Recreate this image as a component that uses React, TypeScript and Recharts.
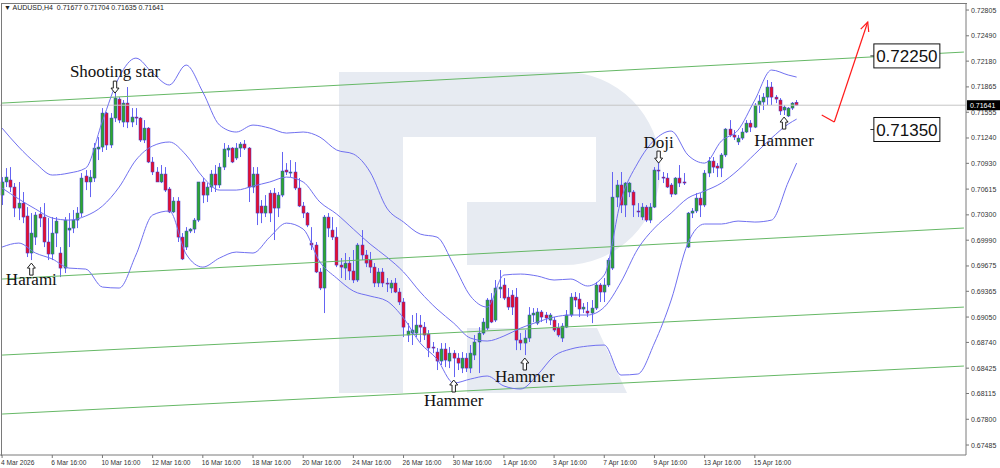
import React from "react";
import {
  ComposedChart,
  Bar,
  Line,
  XAxis,
  YAxis,
  ReferenceLine,
  ReferenceDot,
} from "recharts";

// AUDUSD H4 candles
const opens = [
  0.70542, 0.70702, 0.70726, 0.7064, 0.70383, 0.70444, 0.70286, 0.69833, 0.70028, 0.7031,
  0.70273, 0.69968, 0.69821, 0.70077, 0.69833, 0.69649, 0.70114, 0.70138, 0.70236, 0.70322,
  0.70775, 0.70702, 0.7075, 0.71105, 0.71129, 0.71545, 0.71154, 0.71484, 0.71716, 0.71435,
  0.71667, 0.71435, 0.71496, 0.71484, 0.71215, 0.71361, 0.70946, 0.70824, 0.70702, 0.70799,
  0.70616, 0.70335, 0.70469, 0.70028, 0.69906, 0.70102, 0.70126, 0.70236, 0.70702, 0.70542,
  0.7064, 0.70799, 0.70665, 0.70884, 0.71093, 0.71117, 0.70995, 0.71117, 0.71166, 0.71117,
  0.7064, 0.70799, 0.70408, 0.70322, 0.70566, 0.70566, 0.70383, 0.70542, 0.70848, 0.70811,
  0.70824, 0.70628, 0.70408, 0.70322, 0.69955, 0.69931, 0.69601, 0.69405, 0.70273, 0.70114,
  0.70028, 0.69686, 0.69649, 0.6971, 0.69613, 0.69503, 0.69931, 0.69809, 0.69747, 0.69661,
  0.69466, 0.69601, 0.69466, 0.69405, 0.69466, 0.69356, 0.69234, 0.6883, 0.68854, 0.68854,
  0.68952, 0.68927, 0.68842, 0.68683, 0.68622, 0.68512, 0.68659, 0.68512, 0.68609, 0.68548,
  0.68426, 0.68548, 0.68426, 0.68585, 0.68745, 0.68854, 0.68915, 0.69258, 0.69013, 0.69393,
  0.69442, 0.69294, 0.69319, 0.69294, 0.68769, 0.68732, 0.68793, 0.69075, 0.68976, 0.69112,
  0.69075, 0.69013, 0.69013, 0.68915, 0.68793, 0.68927, 0.69075, 0.69294, 0.6927, 0.69148,
  0.69124, 0.69099, 0.6916, 0.69442, 0.69356, 0.69442, 0.69649, 0.70517, 0.70665, 0.7042,
  0.70579, 0.70579, 0.70347, 0.70273, 0.70395, 0.70236, 0.70395, 0.70848, 0.70762, 0.7075,
  0.70665, 0.70554, 0.7075, 0.70702, 0.69906, 0.70322, 0.70347, 0.70505, 0.7042, 0.70811,
  0.70958, 0.70897, 0.70872, 0.71032, 0.71349, 0.71276, 0.71191, 0.71239, 0.71313, 0.71422,
  0.71373, 0.71643, 0.7168, 0.7174, 0.71863, 0.7174, 0.71704, 0.71582, 0.71509, 0.71606,
  0.71677,
];
const highs = [
  0.70762, 0.70872, 0.70884, 0.70689, 0.70702, 0.70579, 0.70395, 0.70322, 0.70335, 0.70395,
  0.70444, 0.70261, 0.70273, 0.70273, 0.69906, 0.70273, 0.70322, 0.70359, 0.70395, 0.70811,
  0.70848, 0.70848, 0.71178, 0.71251, 0.71606, 0.71558, 0.71545, 0.71826, 0.7174, 0.71704,
  0.71863, 0.71606, 0.71606, 0.71496, 0.71459, 0.71373, 0.71007, 0.70884, 0.70909, 0.70884,
  0.7064, 0.70517, 0.70517, 0.70077, 0.7015, 0.70138, 0.70261, 0.70702, 0.7075, 0.70689,
  0.70848, 0.70909, 0.70933, 0.71178, 0.71154, 0.71129, 0.71178, 0.71191, 0.71215, 0.71129,
  0.70884, 0.70884, 0.70481, 0.70542, 0.70603, 0.70628, 0.70579, 0.71069, 0.70933, 0.7097,
  0.70946, 0.7075, 0.70457, 0.70335, 0.7015, 0.69968, 0.69649, 0.70298, 0.70322, 0.70273,
  0.7015, 0.69772, 0.69833, 0.69784, 0.6987, 0.69955, 0.70114, 0.6987, 0.69846, 0.6971,
  0.69649, 0.69649, 0.69527, 0.69503, 0.69527, 0.69405, 0.69282, 0.68976, 0.69075, 0.69099,
  0.69075, 0.68989, 0.68891, 0.68745, 0.68671, 0.68732, 0.68732, 0.68683, 0.68646, 0.68609,
  0.68622, 0.68609, 0.68708, 0.6883, 0.68927, 0.69038, 0.69282, 0.69343, 0.69503, 0.69625,
  0.69527, 0.69405, 0.6938, 0.69405, 0.68854, 0.68891, 0.69172, 0.6916, 0.6916, 0.69136,
  0.69112, 0.69099, 0.6905, 0.68976, 0.68976, 0.69136, 0.69343, 0.69356, 0.69343, 0.69221,
  0.69234, 0.69258, 0.69479, 0.69466, 0.69527, 0.69772, 0.70824, 0.70726, 0.70824, 0.70702,
  0.70702, 0.70603, 0.70444, 0.70444, 0.7042, 0.70444, 0.70884, 0.70946, 0.70824, 0.70811,
  0.70689, 0.70762, 0.70909, 0.70811, 0.70335, 0.70383, 0.70566, 0.70566, 0.70848, 0.71007,
  0.71007, 0.70933, 0.71056, 0.71361, 0.71459, 0.71337, 0.71276, 0.71361, 0.71459, 0.71459,
  0.71667, 0.71765, 0.71789, 0.71949, 0.71925, 0.71765, 0.71728, 0.71643, 0.71618, 0.7168,
  0.71704,
];
const lows = [
  0.7042, 0.7064, 0.70579, 0.70273, 0.70236, 0.70199, 0.69784, 0.69747, 0.69931, 0.7015,
  0.69906, 0.69747, 0.69747, 0.69906, 0.69539, 0.69588, 0.69906, 0.70077, 0.70138, 0.70273,
  0.70603, 0.70517, 0.70702, 0.7097, 0.71069, 0.71093, 0.71117, 0.71435, 0.71422, 0.71373,
  0.71361, 0.71373, 0.71398, 0.71191, 0.71178, 0.70933, 0.70787, 0.70702, 0.70689, 0.70579,
  0.70322, 0.70322, 0.69968, 0.69747, 0.6987, 0.70077, 0.70077, 0.70212, 0.70444, 0.70457,
  0.70579, 0.70579, 0.70628, 0.70848, 0.71007, 0.70933, 0.7097, 0.71007, 0.71093, 0.70457,
  0.70566, 0.70175, 0.70199, 0.70273, 0.70212, 0.69992, 0.70273, 0.70517, 0.70787, 0.70762,
  0.70603, 0.70395, 0.70261, 0.7015, 0.6987, 0.69588, 0.6938, 0.69099, 0.70028, 0.69992,
  0.69661, 0.69527, 0.69503, 0.69503, 0.69466, 0.69479, 0.69747, 0.69661, 0.69588, 0.69417,
  0.69417, 0.69417, 0.69356, 0.69343, 0.69343, 0.69197, 0.68805, 0.68745, 0.68708, 0.68805,
  0.68745, 0.68769, 0.6856, 0.68609, 0.68402, 0.68463, 0.68438, 0.68426, 0.68316, 0.68402,
  0.68365, 0.68378, 0.68365, 0.68524, 0.68365, 0.6883, 0.68891, 0.68976, 0.68989, 0.69282,
  0.69258, 0.69136, 0.69075, 0.68646, 0.68646, 0.68585, 0.68745, 0.68989, 0.68952, 0.68989,
  0.68976, 0.68952, 0.68867, 0.68805, 0.68745, 0.68915, 0.6905, 0.69172, 0.6905, 0.69099,
  0.6905, 0.68976, 0.69136, 0.69234, 0.69234, 0.69417, 0.69625, 0.70395, 0.70322, 0.70273,
  0.70517, 0.70273, 0.70273, 0.70236, 0.70212, 0.70199, 0.70383, 0.70726, 0.70689, 0.70628,
  0.70517, 0.70542, 0.7064, 0.70665, 0.69894, 0.70261, 0.70322, 0.70273, 0.70395, 0.70762,
  0.70811, 0.70762, 0.70762, 0.71007, 0.71251, 0.71215, 0.71154, 0.71215, 0.713, 0.71313,
  0.71361, 0.71545, 0.71582, 0.71643, 0.71643, 0.71667, 0.71521, 0.71521, 0.71496, 0.71582,
  0.71635,
];
const closes = [
  0.70702, 0.70762, 0.7064, 0.70383, 0.70444, 0.70273, 0.69833, 0.70077, 0.70298, 0.70261,
  0.69968, 0.69821, 0.70077, 0.70224, 0.69649, 0.70236, 0.70138, 0.70236, 0.70322, 0.7075,
  0.70702, 0.70762, 0.71117, 0.71129, 0.71545, 0.71154, 0.71484, 0.71728, 0.71459, 0.71667,
  0.71435, 0.71496, 0.71484, 0.71215, 0.71361, 0.70946, 0.70824, 0.70702, 0.70799, 0.70603,
  0.70335, 0.70469, 0.70028, 0.6976, 0.70102, 0.70126, 0.70236, 0.70702, 0.70542, 0.7064,
  0.70799, 0.70665, 0.70884, 0.71105, 0.71117, 0.70946, 0.71117, 0.71166, 0.71117, 0.7064,
  0.70799, 0.70322, 0.70322, 0.70408, 0.70322, 0.70383, 0.70542, 0.70836, 0.70824, 0.70824,
  0.70628, 0.70408, 0.70322, 0.70175, 0.69931, 0.69601, 0.69405, 0.70273, 0.70138, 0.70028,
  0.69686, 0.69661, 0.6971, 0.69613, 0.69503, 0.69931, 0.69809, 0.6971, 0.69661, 0.69466,
  0.69601, 0.69466, 0.69454, 0.69466, 0.69356, 0.69234, 0.68927, 0.68879, 0.68891, 0.68952,
  0.68927, 0.6883, 0.68671, 0.68671, 0.68512, 0.68659, 0.68524, 0.68609, 0.68548, 0.68487,
  0.68548, 0.68426, 0.68609, 0.68745, 0.68854, 0.68989, 0.69258, 0.68989, 0.69405, 0.69417,
  0.69282, 0.69172, 0.69172, 0.68769, 0.68732, 0.68793, 0.69075, 0.69099, 0.69112, 0.6905,
  0.69038, 0.69075, 0.68891, 0.6883, 0.6894, 0.69075, 0.69294, 0.69258, 0.69148, 0.69172,
  0.69099, 0.6916, 0.69442, 0.69356, 0.69442, 0.69747, 0.70517, 0.70665, 0.7042, 0.70689,
  0.70689, 0.7042, 0.70335, 0.70395, 0.70236, 0.70395, 0.70848, 0.70836, 0.7075, 0.7064,
  0.70554, 0.7075, 0.70689, 0.70689, 0.70322, 0.70347, 0.70505, 0.7042, 0.70811, 0.70958,
  0.70884, 0.70872, 0.71032, 0.71349, 0.71276, 0.71251, 0.71239, 0.71313, 0.71422, 0.71373,
  0.71643, 0.71692, 0.7174, 0.71863, 0.7174, 0.71716, 0.7157, 0.71618, 0.71606, 0.71667,
  0.71641,
];

// Bollinger bands, sampled every 4 bars
const bandIdx = [
  0, 4, 8, 12, 16, 20, 24, 28, 32, 36, 40, 44, 48, 52, 56, 60, 64, 68, 72, 76, 80, 84, 88, 92,
  96, 100, 104, 108, 112, 116, 120, 124, 128, 132, 136, 140, 144, 148, 152, 156, 160, 164, 168,
  172, 176, 180, 184, 188, 190,
];
const bandUpper = [
  0.71361, 0.71129, 0.70933, 0.70787, 0.70811, 0.70872, 0.71447, 0.71986, 0.72217, 0.72034,
  0.71888, 0.72132, 0.71802, 0.71398, 0.71313, 0.71398, 0.71361, 0.713, 0.71313, 0.71251,
  0.71093, 0.71044, 0.70824, 0.70383, 0.70212, 0.70065, 0.70028, 0.69686, 0.69307, 0.69172,
  0.69564, 0.69576, 0.69552, 0.69503, 0.69515, 0.6943, 0.69564, 0.70481, 0.70933, 0.71215,
  0.71325, 0.71032, 0.70933, 0.71203, 0.71337, 0.71704, 0.72071, 0.7201, 0.71985,
];
const bandMiddle = [
  0.70628, 0.70493, 0.70371, 0.70261, 0.70236, 0.70286, 0.70408, 0.7064, 0.7097, 0.71142,
  0.71191, 0.71032, 0.70762, 0.70603, 0.70603, 0.70652, 0.70702, 0.70762, 0.70702, 0.70457,
  0.7031, 0.70126, 0.69943, 0.69784, 0.69601, 0.69356, 0.69148, 0.68976, 0.68793, 0.68757,
  0.68818, 0.68915, 0.68989, 0.6905, 0.69075, 0.69075, 0.69172, 0.69479, 0.69882, 0.70138,
  0.70322, 0.70505, 0.70591, 0.70689, 0.70848, 0.71044, 0.71239, 0.7141, 0.71471,
];
const bandLower = [
  0.69906, 0.69955, 0.69833, 0.6976, 0.69649, 0.69637, 0.69417, 0.69405, 0.69809, 0.70298,
  0.70347, 0.69821, 0.69661, 0.69772, 0.69845, 0.69833, 0.70028, 0.70199, 0.70126, 0.69723,
  0.69527, 0.69368, 0.69307, 0.69246, 0.69038, 0.68732, 0.68536, 0.68243, 0.68292, 0.68329,
  0.68207, 0.6817, 0.68341, 0.68573, 0.68659, 0.68695, 0.68708, 0.68341, 0.68353, 0.68732,
  0.69258, 0.69955, 0.70188, 0.70188, 0.70224, 0.70212, 0.70236, 0.70702, 0.70933,
];

const xTickIdx = [0, 12, 24, 36, 48, 60, 72, 84, 96, 108, 120, 132, 144, 156, 168, 180];
const xTickLabels = [
  "4 Mar 2026", "6 Mar 16:00", "10 Mar 16:00", "12 Mar 16:00", "16 Mar 16:00",
  "18 Mar 16:00", "20 Mar 16:00", "24 Mar 16:00", "26 Mar 16:00", "30 Mar 16:00",
  "1 Apr 16:00", "3 Apr 16:00", "7 Apr 16:00", "9 Apr 16:00", "13 Apr 16:00", "15 Apr 16:00",
];
const yTicks = [
  0.72805, 0.7249, 0.7218, 0.71865, 0.71555, 0.7124, 0.7093, 0.70615, 0.703, 0.6999, 0.69675,
  0.69365, 0.6905, 0.6874, 0.68425, 0.68115, 0.678, 0.67485,
];

// trend channel lines: price at first and last slot
const channelLeft = [0.71667, 0.69515, 0.68585, 0.67864];
const channelRight = [0.72291, 0.70139, 0.69172, 0.68451];

// candle pattern notes
const patternIdx = [27, 7, 108, 125, 157, 187];
const patternPrice = [0.71789, 0.6971, 0.6828, 0.68549, 0.70933, 0.71496];
const patternNames = ["Shooting star", "Harami", "Hammer", "Hammer", "Doji", "Hammer"];
const patternDown = [true, false, false, false, true, false];

const targetLevels = [0.7225, 0.7135];
const forecastIdx = [196, 199, 207];
const forecastPrice = [0.71521, 0.71435, 0.72658];
const lastPrice = 0.71641;

const SLOTS = 231;
const rows = Array.from({ length: SLOTS }, (_, i) => {
  const b = bandIdx.indexOf(i);
  return {
    i,
    o: opens[i],
    h: highs[i],
    l: lows[i],
    c: closes[i],
    up: b >= 0 ? bandUpper[b] : undefined,
    mid: b >= 0 ? bandMiddle[b] : undefined,
    lo: b >= 0 ? bandLower[b] : undefined,
  };
});

const labelDy = [-16, 22, 26, 24, -15, 29];

function Candle(props: any) {
  const { x, y, width, height, payload } = props;
  if (!payload || payload.o == null) return null;
  const { o, h, l, c } = payload;
  const top = Math.min(y, y + height);
  const span = Math.abs(height);
  const k = h - l > 0 ? span / (h - l) : 0;
  const py = (v: number) => top + (h - v) * k;
  const cx = Math.round(x + width / 2) + 0.5;
  const yo = py(o);
  const yc = py(c);
  const bTop = Math.min(yo, yc);
  const bH = Math.max(1, Math.abs(yo - yc));
  const up = c >= o;
  return (
    <g>
      <line x1={cx} x2={cx} y1={top} y2={top + span} stroke="#6464f2" strokeWidth={1} />
      <rect
        x={cx - 1.5}
        y={bTop}
        width={3}
        height={bH}
        fill={up ? "#2fa82f" : "#e8102c"}
        stroke="#3a3ad2"
        strokeWidth={0.5}
      />
    </g>
  );
}

function Arrow({ x, y, down }: { x: number; y: number; down: boolean }) {
  const s = down ? -1 : 1;
  const pts = [
    [0, 0],
    [4, 5],
    [1.7, 5],
    [1.7, 12],
    [-1.7, 12],
    [-1.7, 5],
    [-4, 5],
  ]
    .map(([a, b]) => `${x + a},${y + s * b}`)
    .join(" ");
  return <polygon points={pts} fill="#fff" stroke="#222" strokeWidth={1} />;
}

function XTick(props: any) {
  const { x, y, payload } = props;
  const k = xTickIdx.indexOf(payload.value);
  return (
    <g>
      <line x1={x} x2={x} y1={y} y2={y + 3} stroke="#777" />
      <text x={x - 1} y={y + 10} fontSize={6.6} fill="#333" fontFamily="Liberation Sans">
        {k >= 0 ? xTickLabels[k] : ""}
      </text>
    </g>
  );
}

function YTick(props: any) {
  const { x, y, payload } = props;
  return (
    <g>
      <line x1={x} x2={x + 3} y1={y} y2={y} stroke="#777" />
      <text x={x + 5} y={y + 2.5} fontSize={7} fill="#333" fontFamily="Liberation Sans">
        {Number(payload.value).toFixed(5)}
      </text>
    </g>
  );
}

function PriceTag(props: any) {
  const vb = props.viewBox || {};
  const x = vb.x + vb.width + 1;
  const y = vb.y;
  return (
    <g>
      <rect x={x} y={y - 5} width={33} height={10} fill="#000" />
      <text x={x + 3} y={y + 2.5} fontSize={7} fill="#fff" fontFamily="Liberation Sans">
        {lastPrice.toFixed(5)}
      </text>
    </g>
  );
}

export default function App() {
  return (
    <div
      style={{
        position: "absolute",
        left: 0,
        top: 0,
        width: 1000,
        height: 468,
        background: "#fff",
        overflow: "hidden",
      }}
    >
      {/* broker watermark */}
      <svg width={1000} height={468} style={{ position: "absolute", left: 0, top: 0 }}>
        <g fill="#e7ebf2">
          <rect x={339} y={72} width={64} height={321} />
          <path d="M403 72 H564 A96.5 96.5 0 0 1 564 265 H467 V202 H596 V137 H403 Z" />
          <polygon points="467,328 597,328 627,393 467,393" />
        </g>
      </svg>

      <ComposedChart
        width={1000}
        height={468}
        data={rows}
        margin={{ top: 3, right: 0, bottom: 0, left: 0 }}
        barCategoryGap="10%"
      >
        <XAxis
          dataKey="i"
          type="category"
          ticks={xTickIdx}
          interval={0}
          tick={<XTick />}
          tickLine={false}
          tickSize={0}
          tickMargin={0}
          height={13}
          axisLine={{ stroke: "#7a7a7a" }}
        />
        <YAxis
          orientation="right"
          width={34}
          domain={[0.67363, 0.72891]}
          allowDataOverflow
          ticks={yTicks}
          interval={0}
          tick={<YTick />}
          tickLine={false}
          tickSize={0}
          tickMargin={0}
          axisLine={{ stroke: "#7a7a7a" }}
        />

        {channelLeft.map((v, k) => (
          <ReferenceLine
            key={"ch" + k}
            segment={[
              { x: 0, y: v },
              { x: SLOTS - 1, y: channelRight[k] },
            ]}
            stroke="#66b866"
            strokeWidth={1}
            ifOverflow="visible"
          />
        ))}

        <ReferenceLine y={lastPrice} stroke="#c6c6c6" strokeWidth={1} label={(p: any) => <PriceTag {...p} />} />

        <Line dataKey="up" type="monotone" stroke="#7070f0" strokeWidth={1} dot={false} connectNulls isAnimationActive={false} />
        <Line dataKey="mid" type="monotone" stroke="#7070f0" strokeWidth={1} dot={false} connectNulls isAnimationActive={false} />
        <Line dataKey="lo" type="monotone" stroke="#7070f0" strokeWidth={1} dot={false} connectNulls isAnimationActive={false} />

        <Bar
          dataKey={(d: any) => (d.o == null ? null : [d.l, d.h])}
          shape={(p: any) => <Candle {...p} />}
          isAnimationActive={false}
        />

        {patternIdx.map((ix, k) => (
          <ReferenceDot
            key={"pt" + k}
            x={ix}
            y={patternPrice[k]}
            r={0}
            ifOverflow="visible"
            shape={(p: any) => (
              <g>
                <Arrow x={p.cx} y={p.cy} down={patternDown[k]} />
                <text
                  x={p.cx}
                  y={p.cy + labelDy[k]}
                  textAnchor="middle"
                  fontSize={17}
                  fontFamily="Liberation Serif"
                  fill="#111"
                >
                  {patternNames[k]}
                </text>
              </g>
            )}
          />
        ))}

        <ReferenceLine
          segment={[
            { x: forecastIdx[0], y: forecastPrice[0] },
            { x: forecastIdx[1], y: forecastPrice[1] },
          ]}
          stroke="#ff1a1a"
          strokeWidth={1.2}
          ifOverflow="visible"
        />
        <ReferenceLine
          segment={[
            { x: forecastIdx[1], y: forecastPrice[1] },
            { x: forecastIdx[2], y: forecastPrice[2] },
          ]}
          stroke="#ff1a1a"
          strokeWidth={1.2}
          ifOverflow="visible"
        />
        <ReferenceDot
          x={forecastIdx[2]}
          y={forecastPrice[2]}
          r={0}
          ifOverflow="visible"
          shape={(p: any) => (
            <path
              d={`M${p.cx - 7} ${p.cy + 7} L${p.cx} ${p.cy} L${p.cx + 1} ${p.cy + 10}`}
              stroke="#ff1a1a"
              strokeWidth={1.2}
              fill="none"
            />
          )}
        />

        {targetLevels.map((v, k) => (
          <ReferenceDot
            key={"tg" + k}
            x={216}
            y={v}
            r={0}
            ifOverflow="visible"
            shape={(p: any) => (
              <g>
                <line x1={p.cx - 35} x2={p.cx - 31} y1={p.cy + 0.5} y2={p.cy + 0.5} stroke="#333" />
                <rect x={p.cx - 31.5} y={p.cy - 11.5} width={66} height={24} fill="#fff" stroke="#111" />
                <text
                  x={p.cx + 1.5}
                  y={p.cy + 6.5}
                  textAnchor="middle"
                  fontSize={17}
                  fontFamily="Liberation Sans"
                  fill="#111"
                >
                  {v.toFixed(5)}
                </text>
              </g>
            )}
          />
        ))}
      </ComposedChart>

      <div
        style={{
          position: "absolute",
          left: 1,
          top: 3,
          width: 965,
          height: 452,
          borderLeft: "1px solid #7a7a7a",
          borderTop: "1px solid #7a7a7a",
          pointerEvents: "none",
        }}
      />
      <div
        style={{
          position: "absolute",
          left: 4,
          top: 4,
          fontSize: 7,
          fontFamily: "Liberation Sans",
          color: "#222",
          whiteSpace: "pre",
        }}
      >
        {"\u25BC AUDUSD,H4  0.71677 0.71704 0.71635 0.71641"}
      </div>
    </div>
  );
}
